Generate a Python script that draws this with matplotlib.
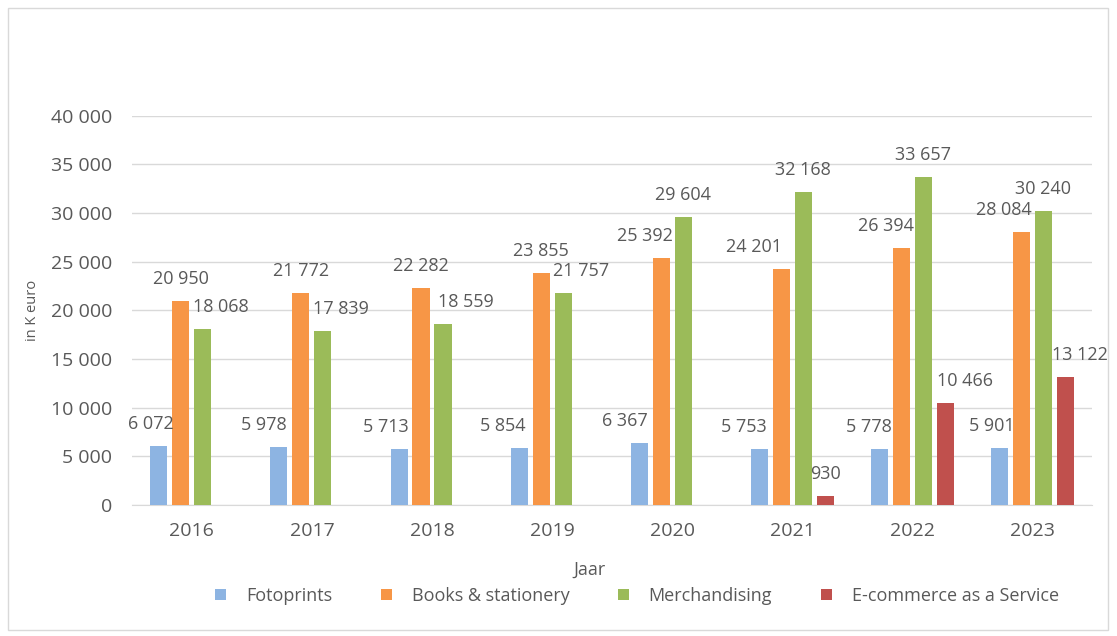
import matplotlib
matplotlib.use("Agg")
import matplotlib.pyplot as plt
from matplotlib.patches import Rectangle
import numpy as np

years = ["2016", "2017", "2018", "2019", "2020", "2021", "2022", "2023"]
fotoprints = [6072, 5978, 5713, 5854, 6367, 5753, 5778, 5901]
books = [20950, 21772, 22282, 23855, 25392, 24201, 26394, 28084]
merch = [18068, 17839, 18559, 21757, 29604, 32168, 33657, 30240]
ecom = [None, None, None, None, None, 930, 10466, 13122]

# horizontal nudges of the data labels (pixels), like excel placed them
foto_dx = [-8, -15, -13, -16, -14, -15, -10, -8]
books_dx = [0, 0, 0, 0, -16, -27, -15, -18]
merch_dx = [18, 18, 23, 18, 0, 0, 0, 0]
ecom_dx = [0, 0, 0, 0, 0, 0, 20, 15]

series = [
    ("Fotoprints", fotoprints, "#8DB4E2", foto_dx),
    ("Books & stationery", books, "#F79646", books_dx),
    ("Merchandising", merch, "#9BBB59", merch_dx),
    ("E-commerce as a Service", ecom, "#C0504D", ecom_dx),
]

plt.rcParams['font.family'] = ['Open Sans', 'DejaVu Sans']
txt = "#595959"

fig = plt.figure(figsize=(11.17, 6.36), dpi=100)
ax = fig.add_axes([0.118, 0.206, 0.86, 0.612])

x = np.arange(len(years))
pitch = 0.183
width = 0.142


def fmt(v):
    return f"{v:,}".replace(",", " ")


for i, (name, vals, color, dxs) in enumerate(series):
    xs = [xi + (i - 1.5) * pitch for xi, v in zip(x, vals) if v is not None]
    vs = [v for v in vals if v is not None]
    dd = [d for d, v in zip(dxs, vals) if v is not None]
    ax.bar(xs, vs, width=width, color=color, label=name, zorder=3)
    for xi, v, d in zip(xs, vs, dd):
        ax.annotate(fmt(v), (xi, v), xytext=(d, 22), textcoords="offset pixels",
                    ha="center", va="center", fontsize=13, color=txt, zorder=4)

ax.set_xlim(-0.5, len(years) - 0.5)
ax.set_ylim(0, 40000)
ax.set_yticks(range(0, 40001, 5000))
ax.set_yticklabels([fmt(v) for v in range(0, 40001, 5000)])
ax.set_xticks(x)
ax.set_xticklabels(years)
ax.grid(axis="y", color="#D9D9D9", linewidth=1, zorder=0)
for s in ["top", "right", "left"]:
    ax.spines[s].set_visible(False)
ax.spines["bottom"].set_color("#D9D9D9")
ax.tick_params(axis="both", length=0, labelsize=14, colors=txt)
ax.tick_params(axis="x", pad=12)
ax.tick_params(axis="y", pad=14)

ax.set_ylabel("in K euro", fontsize=10.5, color=txt)
ax.yaxis.set_label_coords(-0.096, 0.5)
fig.text(590 / 1117, 1 - 570 / 636, "Jaar", ha="center", va="center",
         fontsize=13, color=txt)

fig.legend(loc="center", bbox_to_anchor=(637 / 1117, 1 - 596 / 636), ncol=4,
           frameon=False, fontsize=13, labelcolor=txt, handlelength=0.6,
           handleheight=0.6, columnspacing=2.7, handletextpad=1.1)

fig.patches.append(Rectangle((8 / 1117, 6 / 636), 1100 / 1117, 622 / 636,
                             transform=fig.transFigure, fill=False,
                             edgecolor="#D9D9D9", linewidth=1))

fig.savefig("out.png", dpi=100)
